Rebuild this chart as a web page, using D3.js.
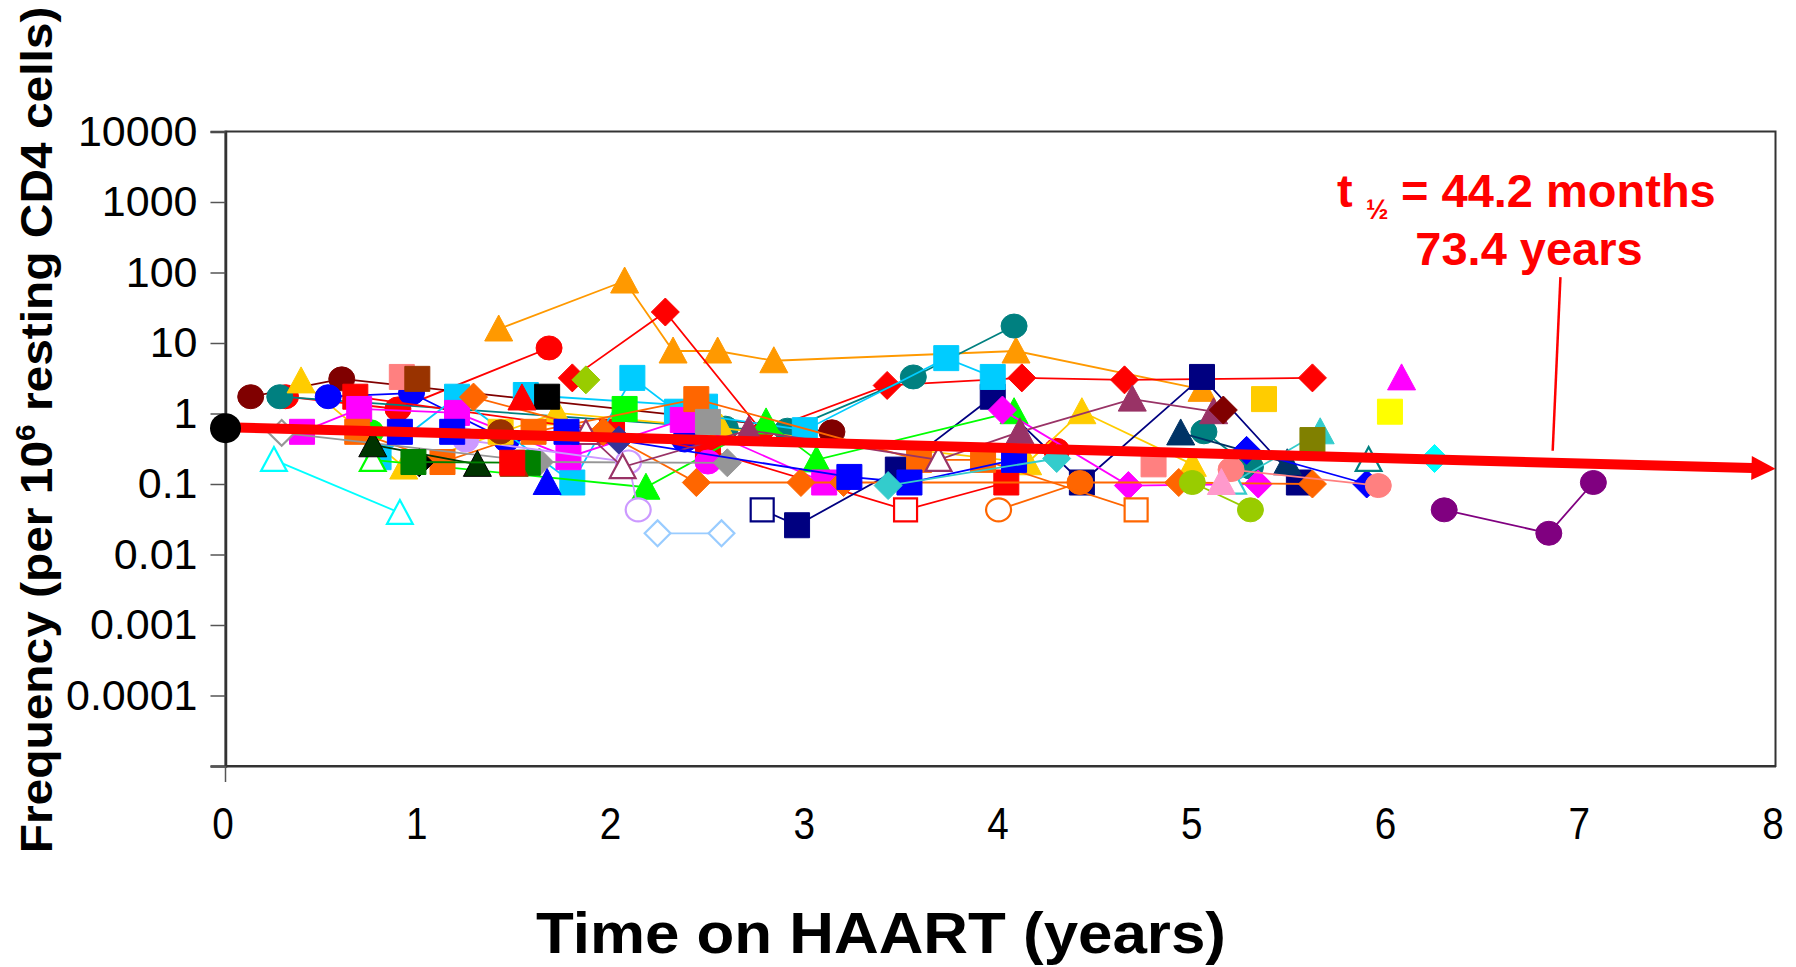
<!DOCTYPE html>
<html><head><meta charset="utf-8">
<script src="https://cdn.jsdelivr.net/npm/d3@7"></script>
<style>body{margin:0;background:#fff}svg{display:block}text{font-family:"Liberation Sans",Arial,sans-serif}</style>
</head><body>
<script>
// ---------- DATA ----------
const xTickValues = [0,1,2,3,4,5,6,7,8];
const yTickValues = [1e-5,1e-4,1e-3,1e-2,1e-1,1,10,100,1000,10000];
const yTickLabels = ["","0.0001","0.001","0.01","0.1","1","10","100","1000","10000"];

const seriesYears = [
 [1.41,2.06,2.31,2.54,2.83,4.08,5.04],
 [1.79,2.27,2.77,3.415,4.11,4.64,5.61],
 [0.31,0.89,1.67],
 [4.29],
 [0.13,0.60,3.13],
 [0.28,2.58,2.90,3.55,4.07],
 [5.05,5.29],
 [0.39,0.92,1.71,2.56,4.14,4.42,4.99],
 [0.53,0.96,1.45,2.37],
 [0.67,1.995,2.49,3.51,4.03],
 [2.77,2.95,3.47,3.96,4.42,5.04,5.54],
 [0.79,1.195,1.79,2.10,2.33,2.99,3.72,3.96],
 [1.55,2.475],
 [2.06],
 [0.76,2.17,2.79,3.05,4.07],
 [0.75],
 [0.395,0.69,1.195,1.77,2.36,3.09],
 [2.49],
 [4.01,4.66,5.33],
 [1.28,1.95,2.43,2.97,3.19,4.92,5.61],
 [3.99,4.41],
 [0.68,1.12,1.59,2.43,3.58,3.91,4.70],
 [0.29,1.62,2.59],
 [2.49],
 [1.66],
 [0.76,1.30],
 [1.00],
 [0.97,1.56],
 [1.24,2.08,2.13],
 [2.23,2.56],
 [0.25,0.90],
 [6.29,6.83,7.06],
 [1.86,2.05,2.70,3.68,4.10,4.68,5.10],
 [5.15],
 [4.93,5.48],
 [5.27,5.89],
 [0.90,1.17,1.76,3.22,3.53,4.07],
 [3.42,4.29],
 [5.20,5.65],
 [0.91],
 [4.79],
 [5.19,5.95],
 [0.99],
 [1.42],
 [1.42],
 [1.49],
 [4.99,5.29],
 [1.86],
 [5.61],
 [5.36],
 [6.01],
 [6.07],
 [6.24],
 [5.90],
 [5.14],
 [2.03],
 [1.53],
 [1.66],
 [1.48]
];
const seriesValues = [
 [15.8,75.7,7.7,7.7,5.6,7.7,2.2],
 [3.2,27.5,0.55,2.5,3.2,3.0,3.2],
 [1.73,1.16,8.5],
 [0.30],
 [1.73,3.1,0.55],
 [1.73,0.62,0.58,3.3,17.4],
 [0.55,0.174],
 [2.9,0.174,1.02,0.62,0.2,1.06,0.19],
 [1.73,1.95,0.42,0.42],
 [1.73,0.55,0.30,0.043,0.105],
 [0.043,0.026,0.16,1.73,0.105,3.3,0.105],
 [0.24,1.73,0.105,3.2,1.06,0.58,6.1,3.3],
 [1.83,1.25],
 [1.16],
 [0.22,0.09,0.76,0.22,1.06],
 [0.55],
 [0.55,1.16,1.02,0.24,0.81,0.105],
 [0.205],
 [1.12,0.095,0.1],
 [1.71,0.55,0.105,0.105,0.105,0.105,0.1],
 [0.043,0.105],
 [0.55,0.205,0.55,1.6,0.22,0.22,0.043],
 [0.53,0.205,0.20],
 [0.76],
 [1.73],
 [0.36,0.19],
 [0.20],
 [0.205,0.20],
 [0.42,0.205,0.043],
 [0.02,0.02],
 [0.22,0.039],
 [0.043,0.02,0.105],
 [0.53,0.174,0.58,0.22,0.55,1.6,1.06],
 [1.12],
 [0.53,0.20],
 [0.30,0.1],
 [0.55,0.55,0.55,0.126,0.105,0.22],
 [0.095,0.23],
 [0.105,0.55],
 [3.3],
 [0.19],
 [0.16,0.095],
 [3.1],
 [0.55],
 [0.55],
 [0.19],
 [0.105,0.043],
 [3.0],
 [0.42],
 [1.6],
 [1.06],
 [3.2],
 [0.23],
 [0.22],
 [0.105],
 [0.42],
 [1.66],
 [0.105],
 [0.20]
];
// which points are open (below detection) markers
const seriesHollow = [
 [],[],[],[],[],[],[],[],[],[3],[0],[],[],[],[0],[],[],[],[],[],[0],[6],[0],[],[],[],[],[],[1,2],[0,1],[0,1],[],[0,1,3],[],[],[],[],[],[0],[],[],[],[],[],[],[],[],[],[],[],[],[],[],[0],[],[],[],[],[]
];
// styles (kept apart from values)
const seriesShapes = ["triangle","diamond","circle","circle","circle","circle","circle","triangle","circle","square",
 "square","square","square","square","triangle","circle","square","circle","diamond","diamond",
 "circle","square","diamond","square","square","triangle","diamond","square","circle","diamond",
 "triangle","circle","triangle","diamond","triangle","diamond","square","diamond","triangle","square",
 "square","circle","square","square","circle","triangle","circle","diamond","square","square",
 "square","triangle","diamond","triangle","triangle","diamond","triangle","triangle","square"];
const seriesColors = ["#FF9900","#FF0000","#FF0000","#FF0000","#800000","#008080","#008080","#FFCC00","#0000FF","#FF0000",
 "#000080","#00CCFF","#00CCFF","#00FF00","#00FF00","#00FF00","#FF00FF","#FF00FF","#FF00FF","#FF6600",
 "#FF6600","#FF6600","#969696","#969696","#000000","#003300","#000000","#008000","#CC99FF","#99CCFF",
 "#00FFFF","#800080","#993366","#800000","#003366","#0000FF","#0000FF","#33CCCC","#33CCCC","#FF8080",
 "#FF8080","#FF8080","#993300","#FFCC00","#993300","#993300","#99CC00","#99CC00","#808000","#FFCC00",
 "#FFFF00","#FF00FF","#00FFFF","#008080","#FF99CC","#333399","#FF0000","#0000FF","#FF0000"];

const startYear = [0], startValue = [0.62];
const regYears = [0, 8], regValues = [0.64, 0.165];
const leaderYears = [6.89, 6.85], leaderValues = [86, null];

// ---------- CHART ----------
const W = 1796, H = 967;
const svg = d3.select("body").append("svg").attr("width", W).attr("height", H);
const x = d3.scaleLinear().domain([0, 8]).range([225.5, 1775.5]);
const y = d3.scaleLog().domain([1e-5, 1e4]).range([766, 131.5]);

// plot frame
svg.append("rect").attr("x", x(0)).attr("y", y(1e4)).attr("width", x(8) - x(0)).attr("height", y(1e-5) - y(1e4))
  .attr("fill", "none").attr("stroke", "#333").attr("stroke-width", 2);

// y axis
const yAxis = svg.append("g").attr("transform", `translate(${x(0)},0)`)
  .call(d3.axisLeft(y).tickValues(yTickValues).tickSize(15).tickPadding(13)
    .tickFormat((d, i) => yTickLabels[i]));
yAxis.select(".domain").attr("stroke", "#333").attr("stroke-width", 2.5);
yAxis.selectAll(".tick line").attr("stroke", "#555").attr("stroke-width", 1.5);
yAxis.selectAll(".tick text").attr("font-size", 43).attr("fill", "#000")
  .attr("font-family", "'Liberation Sans', Arial, sans-serif");

// x axis
const xAxis = svg.append("g").attr("transform", `translate(0,${y(1e-5)})`)
  .call(d3.axisBottom(x).tickValues(xTickValues).tickSize(0).tickPadding(41).tickFormat(d3.format("d")));
xAxis.select(".domain").attr("stroke", "#333").attr("stroke-width", 2);
xAxis.selectAll(".tick text").attr("font-size", 45).attr("fill", "#000")
  .attr("font-family", "'Liberation Sans', Arial, sans-serif")
  .attr("transform", "translate(-3,0) scale(0.86,1)");
svg.append("line").attr("x1", x(0)).attr("x2", x(0)).attr("y1", y(1e-5)).attr("y2", y(1e-5) + 16)
  .attr("stroke", "#555").attr("stroke-width", 1.5);

// markers
function shapePath(shape, hollow) {
  const s = hollow ? 0.92 : 1;
  if (shape === "square") { const h = 12.5 * s; return `M${-h},${-h}H${h}V${h}H${-h}Z`; }
  if (shape === "triangle") { return `M0,${-14 * s}L${14 * s},${12 * s}L${-14 * s},${12 * s}Z`; }
  if (shape === "diamond") { const h = 14 * s; return `M0,${-h}L${h},0L0,${h}L${-h},0Z`; }
  return null;
}
const line = d3.line().x(d => x(d[0])).y(d => y(d[1]));
const plot = svg.append("g");
seriesYears.forEach((ys, i) => {
  const pts = ys.map((yr, j) => [yr, seriesValues[i][j]]);
  const col = seriesColors[i];
  const g = plot.append("g");
  if (pts.length > 1) {
    g.append("path").attr("d", line(pts)).attr("fill", "none").attr("stroke", col).attr("stroke-width", 1.8);
  }
  pts.forEach((p, j) => {
    const hollow = seriesHollow[i].includes(j);
    const shp = seriesShapes[i];
    const fill = hollow ? "#fff" : col;
    const stroke = (col === "#003300") ? "#000" : col;
    const sw = hollow ? 2.2 : 1;
    if (shp === "circle") {
      g.append("ellipse").attr("cx", x(p[0])).attr("cy", y(p[1]))
        .attr("rx", hollow ? 12.5 : 13).attr("ry", hollow ? 11.5 : 12)
        .attr("fill", fill).attr("stroke", stroke).attr("stroke-width", sw);
    } else {
      g.append("path").attr("d", shapePath(shp, hollow))
        .attr("transform", `translate(${x(p[0])},${y(p[1])})`)
        .attr("fill", fill).attr("stroke", stroke).attr("stroke-width", sw);
    }
  });
});

// regression arrow
const x0 = x(regYears[0]), y0 = y(regValues[0]), x1 = x(regYears[1]), y1 = y(regValues[1]);
const ang = Math.atan2(y1 - y0, x1 - x0);
const headL = 24, headW = 12;
const bx = x1 - headL * Math.cos(ang), by = y1 - headL * Math.sin(ang);
svg.append("line").attr("x1", x0).attr("y1", y0).attr("x2", bx + 1).attr("y2", by)
  .attr("stroke", "#FF0000").attr("stroke-width", 10);
svg.append("path").attr("fill", "#FF0000")
  .attr("d", `M${x1},${y1}L${bx - headW * Math.sin(ang)},${by + headW * Math.cos(ang)}L${bx + headW * Math.sin(ang)},${by - headW * Math.cos(ang)}Z`);

// start point
svg.append("ellipse").attr("cx", x(startYear[0])).attr("cy", y(startValue[0])).attr("rx", 15.5).attr("ry", 15)
  .attr("fill", "#000");

// leader line for annotation
const regAt = t => Math.pow(10, Math.log10(regValues[0]) + (Math.log10(regValues[1]) - Math.log10(regValues[0])) * (t - regYears[0]) / (regYears[1] - regYears[0]));
svg.append("line").attr("x1", x(leaderYears[0])).attr("y1", y(leaderValues[0]))
  .attr("x2", x(leaderYears[1])).attr("y2", y(regAt(leaderYears[1])) - 12)
  .attr("stroke", "#FF0000").attr("stroke-width", 2.5);

// annotation text
const ann = svg.append("g").attr("fill", "#FF0000").attr("font-weight", "bold");
ann.append("text").attr("x", 1337).attr("y", 207).attr("font-size", 47).text("t");
ann.append("text").attr("x", 1366).attr("y", 219).attr("font-size", 27).text("½");
ann.append("text").attr("x", 1401).attr("y", 207).attr("font-size", 47).text("= 44.2 months");
ann.append("text").attr("x", 1529).attr("y", 265).attr("font-size", 47).attr("text-anchor", "middle").text("73.4 years");

// axis titles
const xt = svg.append("g").attr("transform", "translate(881,953)");
const xtt = xt.append("text").attr("text-anchor", "middle").attr("font-size", 58).attr("font-weight", "bold")
  .attr("fill", "#000").text("Time on HAART (years)");
const xl = xtt.node().getComputedTextLength();
xt.attr("transform", `translate(881,953) scale(${690 / xl},1)`);

const yt = svg.append("g");
const ytt = yt.append("text").attr("text-anchor", "middle").attr("font-size", 45).attr("font-weight", "bold").attr("fill", "#000");
ytt.append("tspan").text("Frequency (per 10");
ytt.append("tspan").attr("font-size", 28).attr("dy", -17).text("6");
ytt.append("tspan").attr("dy", 17).text(" resting CD4 cells)");
const yl = ytt.node().getComputedTextLength();
yt.attr("transform", `translate(52,430) rotate(-90) scale(${847 / yl},1)`);
</script>
</body></html>
